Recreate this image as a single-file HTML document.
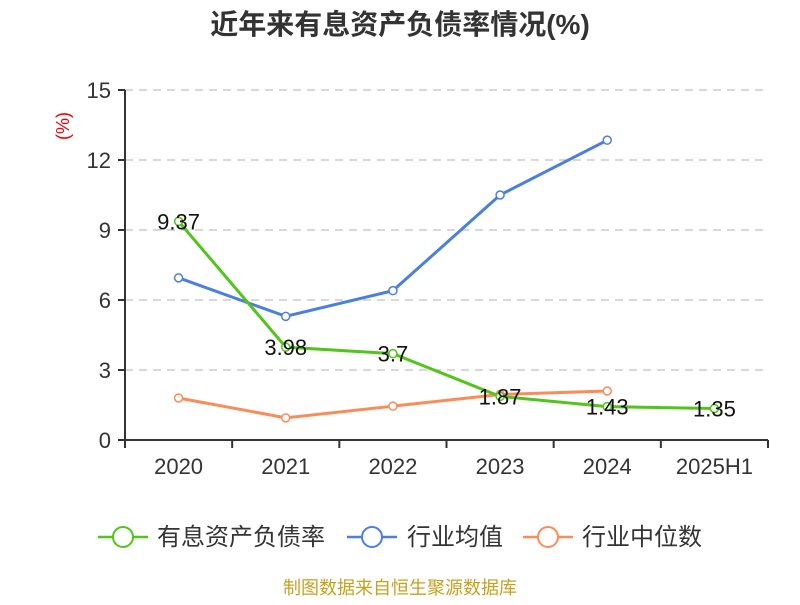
<!DOCTYPE html>
<html><head><meta charset="utf-8"><style>
body{margin:0;background:#fff;font-family:"Liberation Sans","Noto Sans CJK SC",sans-serif}
svg text{font-family:"Liberation Sans","Noto Sans CJK SC",sans-serif}
</style></head><body>
<svg id="c" width="800" height="600">
<text x="400" y="34" text-anchor="middle" font-size="28" font-weight="bold" fill="#333">近年来有息资产负债率情况(%)</text>
<text transform="translate(69,126) rotate(-90)" text-anchor="middle" font-size="18" fill="#e00">(%)</text>
<g id="grid"></g><g id="axes"></g><g id="series"></g>
<g>
<g><line x1="98" y1="537" x2="148" y2="537" stroke="#52c41a" stroke-width="2.5"/><circle cx="123" cy="537" r="10" fill="#fff" stroke="#52c41a" stroke-width="2"/><text x="157" y="545" font-size="24" fill="#333">有息资产负债率</text></g>
<g><line x1="347" y1="537" x2="397" y2="537" stroke="#4a7fe0" stroke-width="2.5"/><circle cx="372" cy="537" r="10" fill="#fff" stroke="#4a7fe0" stroke-width="2"/><text x="407" y="545" font-size="24" fill="#333">行业均值</text></g>
<g><line x1="523" y1="537" x2="573" y2="537" stroke="#fa8c5a" stroke-width="2.5"/><circle cx="548" cy="537" r="10" fill="#fff" stroke="#fa8c5a" stroke-width="2"/><text x="582" y="545" font-size="24" fill="#333">行业中位数</text></g>
</g>
<text x="400" y="594" text-anchor="middle" font-size="18" fill="#c8a020">制图数据来自恒生聚源数据库</text>
</svg>
<script>
const categories=["2020","2021","2022","2023","2024","2025H1"];
const debtRatio=[9.37,3.98,3.7,1.87,1.43,1.35];
const debtLabels=["9.37","3.98","3.7","1.87","1.43","1.35"];
const industryMean=[6.95,5.3,6.4,10.5,12.85];
const industryMedian=[1.8,0.95,1.45,1.95,2.1];
const yTicks=[0,3,6,9,12,15];
const NS="http://www.w3.org/2000/svg";
const x0=125,x1=768,y0=440,y1=90,band=(x1-x0)/categories.length;
const xs=i=>x0+band*(i+0.5), ys=v=>y0-(v/15)*(y0-y1);
function mk(t,a,p){const e=document.createElementNS(NS,t);for(const k in a)e.setAttribute(k,a[k]);p.appendChild(e);return e;}
const grid=document.getElementById('grid'),axes=document.getElementById('axes'),ser=document.getElementById('series');
yTicks.forEach(v=>{
 if(v>0){const g=mk('line',{x1:x0,x2:x1,y1:ys(v),y2:ys(v),stroke:'#ccc','stroke-dasharray':'8,6','stroke-width':1.5},grid);
 
 }
 const t=mk('line',{x1:x0-7,x2:x0,y1:ys(v),y2:ys(v),stroke:'#333','stroke-width':2},axes);
 
 
 const l=mk('text',{x:x0-14,y:ys(v)+8,'text-anchor':'end','font-size':22,fill:'#333'},axes);l.textContent=v;
 
 
});
const ya=mk('line',{x1:x0,x2:x0,y1:y1,y2:y0,stroke:'#333','stroke-width':2},axes);


const xa=mk('line',{x1:x0,x2:x1,y1:y0,y2:y0,stroke:'#333','stroke-width':2},axes);


for(let i=0;i<=categories.length;i++){const t=mk('line',{x1:x0+band*i,x2:x0+band*i,y1:y0,y2:y0+8,stroke:'#333','stroke-width':2},axes);
 
 }
categories.forEach((c,i)=>{const l=mk('text',{x:xs(i),y:474,'text-anchor':'middle','font-size':22,fill:'#333'},axes);l.textContent=c;
 
 });
function series(vals,color,name){
 const p=mk('polyline',{points:vals.map((v,i)=>xs(i)+','+ys(v)).join(' '),fill:'none',stroke:color,'stroke-width':3},ser);
 
 
 vals.forEach((v,i)=>{const c=mk('circle',{cx:xs(i),cy:ys(v),r:4,fill:'#fff',stroke:color,'stroke-width':1.5},ser);
 
 });
}
series(industryMean,'#4a7fe0','industry-mean');
series(industryMedian,'#fa8c5a','industry-median');
series(debtRatio,'#52c41a','debt-ratio');
debtRatio.forEach((v,i)=>{const l=mk('text',{x:xs(i),y:ys(v)+8,'text-anchor':'middle','font-size':22,fill:'#111'},ser);l.textContent=debtLabels[i];
 
 });
</script>
</body></html>
